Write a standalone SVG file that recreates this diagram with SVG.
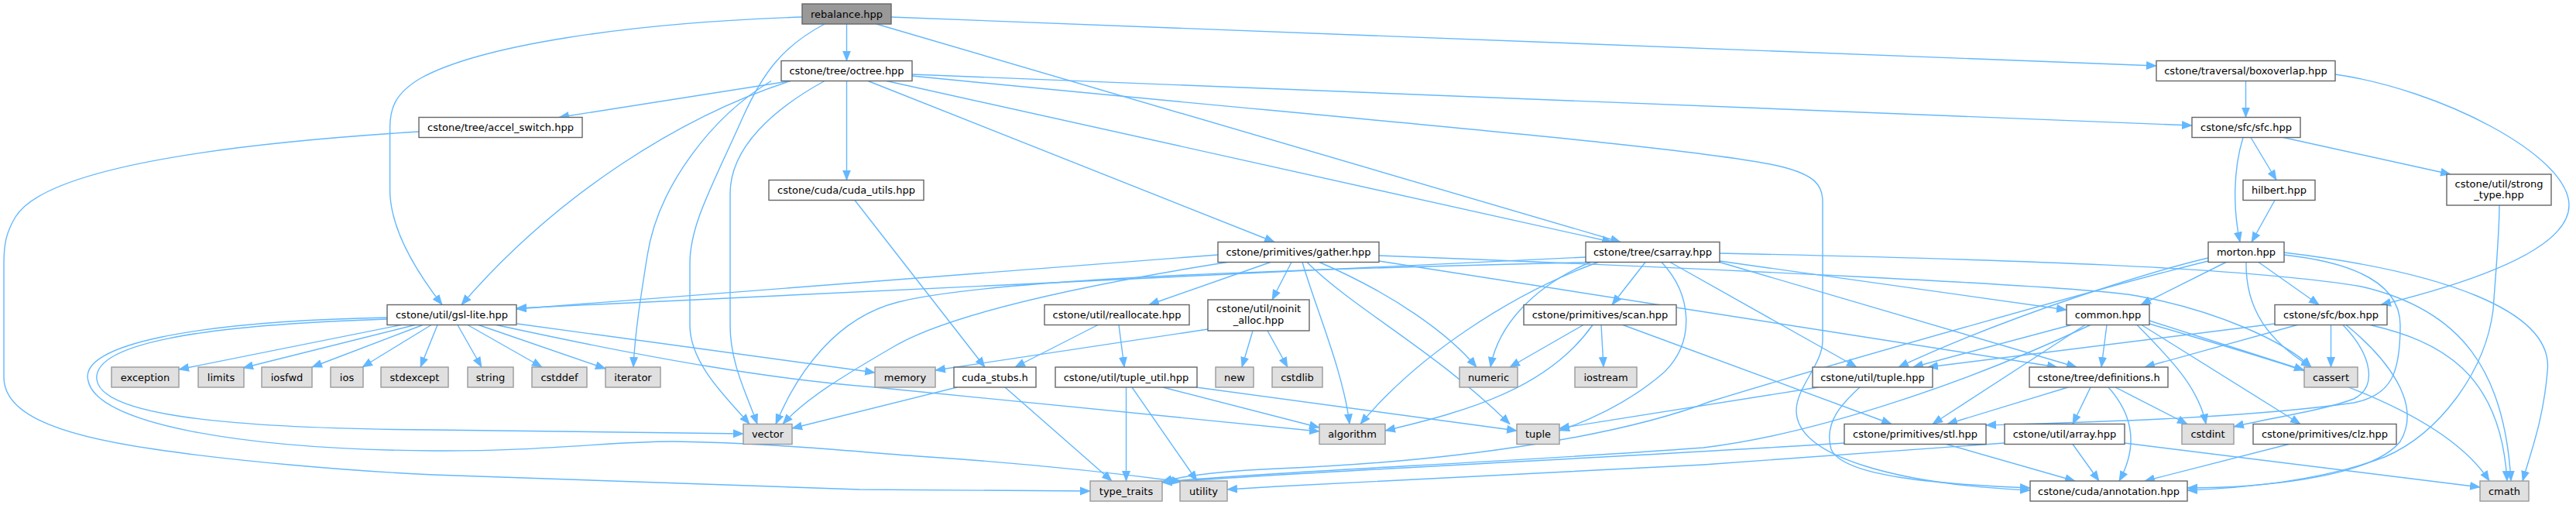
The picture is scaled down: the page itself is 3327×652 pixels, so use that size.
<svg xmlns="http://www.w3.org/2000/svg" width="3327" height="652" viewBox="0 0 3327 652">
<style>
.e{fill:none;stroke:#63b8ff;stroke-width:1.4;marker-end:url(#a)}
.d{fill:#ffffff;stroke:#666666;stroke-width:1.4}
.s{fill:#e0e0e0;stroke:#999999;stroke-width:1.4}
.r{fill:#999999;stroke:#666666;stroke-width:1.4}
text{font-family:"DejaVu Sans",sans-serif;font-size:13px;text-anchor:middle;fill:#000000}
</style>
<defs>
<marker id="a" markerUnits="userSpaceOnUse" markerWidth="14" markerHeight="12" viewBox="0 0 14 12" refX="13" refY="6" orient="auto"><path d="M0,0.5 L14,6 L0,11.5 z" fill="#63b8ff"/></marker>
</defs>
<rect x="0" y="0" width="3327" height="652" fill="#ffffff"/>
<g id="connectors">
<path class="e" d="M1093.5,31 L1093.5,78.5"/>
<path class="e" d="M1036,22 C800,30 620,60 545,100 C510,120 503.6,140 503.6,165 L503.6,245 C503.6,300 545,360 571,393.5"/>
<path class="e" d="M1065,31 C1010,60 985,95 960,150 C920,240 891,290 891,340 L891,420 C891,470 940,515 968,547.5"/>
<path class="e" d="M1132,31 L2093,312.5"/>
<path class="e" d="M1151,22 L2785,85"/>
<path class="e" d="M1021,104.5 L722,151.5"/>
<path class="e" d="M1021,104.5 C880,150 720,250 596,393.5"/>
<path class="e" d="M996,104.5 C920,150 850,240 836,330 C828,380 820,430 818,474"/>
<path class="e" d="M1065,104.5 C1000,140 943,190 943,250 L943,420 C943,470 965,510 978,547.5"/>
<path class="e" d="M1093.5,104.5 L1093.5,232.5"/>
<path class="e" d="M1121,104.5 L1646,312.5"/>
<path class="e" d="M1145,104.5 L2082,312.5"/>
<path class="e" d="M1178,96 L2831,162"/>
<path class="e" d="M1178,98 C1700,150 2200,190 2300,215 C2345,226 2354,240 2354,260 L2354,440 C2354,470 2320,500 2320,530 C2320,590 2450,625 2622,633"/>
<path class="e" d="M2900.5,104.5 L2900.5,151.5"/>
<path class="e" d="M3016,96 C3150,115 3318,200 3318,265 C3318,330 3150,375 3075,393.5"/>
<path class="e" d="M2897,177.5 C2884,220 2884,270 2893,312.5"/>
<path class="e" d="M2907,177.5 L2940,232.5"/>
<path class="e" d="M2949,177.5 L3165,225"/>
<path class="e" d="M2938,258.5 L2908,312.5"/>
<path class="e" d="M3228,265 C3228,300 3225,330 3220,400 C3210,480 3150,560 3080,590 C3000,620 2900,630 2825,633"/>
<path class="e" d="M1104,258.5 L1272,474"/>
<path class="e" d="M1641,338.5 L1484,393.5"/>
<path class="e" d="M1668,338.5 L1643,387"/>
<path class="e" d="M1573,329 L667,399"/>
<path class="e" d="M1585,338.5 C1450,360 1230,400 1150,450 C1090,485 1040,515 1011,547.5"/>
<path class="e" d="M1682,338.5 C1700,400 1735,480 1743,547.5"/>
<path class="e" d="M1688,338.5 C1750,400 1850,450 1950,547.5"/>
<path class="e" d="M1704,338.5 C1800,380 1870,430 1907,474"/>
<path class="e" d="M1781,330 C2200,346 2700,370 2760,382 C2860,400 2950,440 2985,474"/>
<path class="e" d="M1781,337 L2657,474"/>
<path class="e" d="M2048,332 L667,398"/>
<path class="e" d="M2054,338.5 C1800,345 1300,355 1160,390 C1080,410 1030,480 1002,547.5"/>
<path class="e" d="M2125,338.5 L2082,393.5"/>
<path class="e" d="M2054,338.5 C1980,370 1935,420 1925,474"/>
<path class="e" d="M2064,338.5 C1950,380 1830,460 1757,547.5"/>
<path class="e" d="M2146,338.5 C2185,380 2190,440 2150,480 C2110,515 2060,540 2014,556"/>
<path class="e" d="M2157,338.5 L2398,474"/>
<path class="e" d="M2221,337 L2669,400"/>
<path class="e" d="M2221,338.5 L2682,474"/>
<path class="e" d="M2221,327 C2600,335 2900,345 3050,370 C3180,400 3235,480 3243,621"/>
<path class="e" d="M2045,419.5 L1950,474"/>
<path class="e" d="M2057,419.5 C2000,500 1900,530 1789,556"/>
<path class="e" d="M2068,419.5 L2071,474"/>
<path class="e" d="M2096,419.5 L2443,547.5"/>
<path class="e" d="M518,419.5 L231,477"/>
<path class="e" d="M536,419.5 L314,475"/>
<path class="e" d="M546,419.5 L403,474"/>
<path class="e" d="M557,419.5 L468,474"/>
<path class="e" d="M565,419.5 L543,474"/>
<path class="e" d="M591,419.5 L622,474"/>
<path class="e" d="M604,419.5 L700,474"/>
<path class="e" d="M618,419.5 L782,476"/>
<path class="e" d="M668,418 L1130,481"/>
<path class="e" d="M641,419.5 C850,465 1000,490 1130,500 L1704,557"/>
<path class="e" d="M500,412 C250,420 120,445 125,490 C130,530 250,553 560,555 L960,560"/>
<path class="e" d="M500,410 C250,415 100,445 114,492 C125,545 300,580 560,582 C700,583 800,569 871,570 C1000,572 1100,583 1200,590 C1350,600 1450,612 1526,622"/>
<path class="e" d="M541,170 C300,185 60,215 20,280 C8,300 5,315 5,340 L5,487 C5,530 60,560 200,580 C300,595 450,608 560,613 L1110,632 L1408,634"/>
<path class="e" d="M1560,425 L1208,478"/>
<path class="e" d="M1618,427 L1604,474"/>
<path class="e" d="M1637,427 L1663,474"/>
<path class="e" d="M1418,419.5 L1311,474"/>
<path class="e" d="M1445,419.5 L1452,474"/>
<path class="e" d="M1236,500 L1023,553"/>
<path class="e" d="M1298,500 L1436,621"/>
<path class="e" d="M1454.5,500 L1454.5,621"/>
<path class="e" d="M1462,500 L1546,621"/>
<path class="e" d="M1502,500 L1704,552"/>
<path class="e" d="M1545,500 L1959,556"/>
<path class="e" d="M2348,500 L2014,553"/>
<path class="e" d="M2402,500 C2380,520 2355,545 2365,580 C2380,615 2500,625 2622,630"/>
<path class="e" d="M2675,419.5 L2471,474"/>
<path class="e" d="M2693,419.5 L2496,547.5"/>
<path class="e" d="M2721,419.5 L2714,474"/>
<path class="e" d="M2700,419.5 C2550,490 2350,560 2200,578 C1900,600 1700,605 1501,622"/>
<path class="e" d="M2776,414 L2976,478"/>
<path class="e" d="M2776,418 C2950,470 3150,520 3215,621"/>
<path class="e" d="M2760,419.5 C2800,460 2840,500 2849,547.5"/>
<path class="e" d="M2766,419.5 L2971,547.5"/>
<path class="e" d="M2671,500 L2515,547.5"/>
<path class="e" d="M2700,500 L2677,547.5"/>
<path class="e" d="M2723,500 C2750,530 2765,570 2737,621"/>
<path class="e" d="M2732,500 L2825,547.5"/>
<path class="e" d="M2967,419.5 L2770,474"/>
<path class="e" d="M2938,418 L2490,474"/>
<path class="e" d="M3010.5,419.5 L3010.5,474"/>
<path class="e" d="M3026,419.5 C3065,460 3070,500 3040,515 C3000,530 2930,540 2885,551"/>
<path class="e" d="M3030,419.5 C3080,460 3130,520 3100,570 C3060,620 2900,630 2825,630"/>
<path class="e" d="M3061,419.5 C3150,440 3230,480 3238,621"/>
<path class="e" d="M2875,338.5 L2765,393.5"/>
<path class="e" d="M2852,333 C2780,350 2600,405 2452,474"/>
<path class="e" d="M2917,338.5 L2995,393.5"/>
<path class="e" d="M2901,338.5 C2900,400 2930,440 2985,474"/>
<path class="e" d="M2950,329 C3050,340 3100,370 3100,420 C3100,480 3090,510 3040,520 C2900,540 2700,545 2565,549"/>
<path class="e" d="M2950,326 C3150,350 3300,400 3290,480 C3285,540 3270,580 3258,621"/>
<path class="e" d="M2852,337 C2750,362 2400,460 2210,518 C2100,560 1900,595 1650,605 C1580,608 1530,614 1501,622"/>
<path class="e" d="M2382,572 C2100,590 1700,608 1501,623"/>
<path class="e" d="M2589,572 L2200,600 L1650,628 L1585,632"/>
<path class="e" d="M2744,572 L3203,629"/>
<path class="e" d="M2514,573.5 L2680,621"/>
<path class="e" d="M2677,573.5 L2711,621"/>
<path class="e" d="M2956,573.5 L2770,621"/>
</g>
<g id="rebalance"><rect class="r" x="1036" y="5" width="115" height="26"/><text x="1093.5" y="22.6">rebalance.hpp</text></g>
<g id="octree"><rect class="d" x="1009" y="78.5" width="169" height="26"/><text x="1093.5" y="96.1">cstone/tree/octree.hpp</text></g>
<g id="boxoverlap"><rect class="d" x="2785" y="78.5" width="231" height="26"/><text x="2900.5" y="96.1">cstone/traversal/boxoverlap.hpp</text></g>
<g id="accel_switch"><rect class="d" x="541" y="151.5" width="211" height="26"/><text x="646.5" y="169.1">cstone/tree/accel_switch.hpp</text></g>
<g id="sfc"><rect class="d" x="2831" y="151.5" width="140" height="26"/><text x="2901" y="169.1">cstone/sfc/sfc.hpp</text></g>
<g id="cuda_utils"><rect class="d" x="993" y="232.5" width="200" height="26"/><text x="1093" y="250.1">cstone/cuda/cuda_utils.hpp</text></g>
<g id="hilbert"><rect class="d" x="2897" y="232.5" width="93" height="26"/><text x="2943.5" y="250.1">hilbert.hpp</text></g>
<g id="strong_type"><rect class="d" x="3160" y="225" width="135" height="40"/><text x="3227.5" y="241.5">cstone/util/strong</text><text x="3227.5" y="256">_type.hpp</text></g>
<g id="gather"><rect class="d" x="1573" y="312.5" width="208" height="26"/><text x="1677" y="330.1">cstone/primitives/gather.hpp</text></g>
<g id="csarray"><rect class="d" x="2048" y="312.5" width="173" height="26"/><text x="2134.5" y="330.1">cstone/tree/csarray.hpp</text></g>
<g id="morton"><rect class="d" x="2852" y="312.5" width="98" height="26"/><text x="2901" y="330.1">morton.hpp</text></g>
<g id="gsl_lite"><rect class="d" x="500" y="393.5" width="167" height="26"/><text x="583.5" y="411.1">cstone/util/gsl-lite.hpp</text></g>
<g id="reallocate"><rect class="d" x="1349" y="393.5" width="187" height="26"/><text x="1442.5" y="411.1">cstone/util/reallocate.hpp</text></g>
<g id="noinit_alloc"><rect class="d" x="1560" y="387" width="131" height="40"/><text x="1625.5" y="403">cstone/util/noinit</text><text x="1625.5" y="417.5">_alloc.hpp</text></g>
<g id="scan"><rect class="d" x="1968" y="393.5" width="197" height="26"/><text x="2066.5" y="411.1">cstone/primitives/scan.hpp</text></g>
<g id="common"><rect class="d" x="2669" y="393.5" width="107" height="26"/><text x="2722.5" y="411.1">common.hpp</text></g>
<g id="box"><rect class="d" x="2938" y="393.5" width="145" height="26"/><text x="3010.5" y="411.1">cstone/sfc/box.hpp</text></g>
<g id="exception"><rect class="s" x="144" y="474" width="87" height="26"/><text x="187.5" y="491.6">exception</text></g>
<g id="limits"><rect class="s" x="256" y="474" width="59" height="26"/><text x="285.5" y="491.6">limits</text></g>
<g id="iosfwd"><rect class="s" x="338" y="474" width="65" height="26"/><text x="370.5" y="491.6">iosfwd</text></g>
<g id="ios"><rect class="s" x="427" y="474" width="42" height="26"/><text x="448" y="491.6">ios</text></g>
<g id="stdexcept"><rect class="s" x="492" y="474" width="87" height="26"/><text x="535.5" y="491.6">stdexcept</text></g>
<g id="string"><rect class="s" x="604" y="474" width="59" height="26"/><text x="633.5" y="491.6">string</text></g>
<g id="cstddef"><rect class="s" x="687" y="474" width="71" height="26"/><text x="722.5" y="491.6">cstddef</text></g>
<g id="iterator"><rect class="s" x="782" y="474" width="71" height="26"/><text x="817.5" y="491.6">iterator</text></g>
<g id="memory"><rect class="s" x="1130" y="474" width="78" height="26"/><text x="1169" y="491.6">memory</text></g>
<g id="cuda_stubs"><rect class="d" x="1232" y="474" width="106" height="26"/><text x="1285" y="491.6">cuda_stubs.h</text></g>
<g id="tuple_util"><rect class="d" x="1363" y="474" width="183" height="26"/><text x="1454.5" y="491.6">cstone/util/tuple_util.hpp</text></g>
<g id="new"><rect class="s" x="1570" y="474" width="49" height="26"/><text x="1594.5" y="491.6">new</text></g>
<g id="cstdlib"><rect class="s" x="1643" y="474" width="65" height="26"/><text x="1675.5" y="491.6">cstdlib</text></g>
<g id="numeric"><rect class="s" x="1885" y="474" width="75" height="26"/><text x="1922.5" y="491.6">numeric</text></g>
<g id="iostream"><rect class="s" x="2034" y="474" width="80" height="26"/><text x="2074" y="491.6">iostream</text></g>
<g id="tuple_hpp"><rect class="d" x="2341" y="474" width="155" height="26"/><text x="2418.5" y="491.6">cstone/util/tuple.hpp</text></g>
<g id="definitions"><rect class="d" x="2621" y="474" width="179" height="26"/><text x="2710.5" y="491.6">cstone/tree/definitions.h</text></g>
<g id="cassert"><rect class="s" x="2976" y="474" width="69" height="26"/><text x="3010.5" y="491.6">cassert</text></g>
<g id="vector"><rect class="s" x="960" y="547.5" width="63" height="26"/><text x="991.5" y="565.1">vector</text></g>
<g id="algorithm"><rect class="s" x="1704" y="547.5" width="85" height="26"/><text x="1746.5" y="565.1">algorithm</text></g>
<g id="tuple"><rect class="s" x="1959" y="547.5" width="55" height="26"/><text x="1986.5" y="565.1">tuple</text></g>
<g id="stl"><rect class="d" x="2382" y="547.5" width="183" height="26"/><text x="2473.5" y="565.1">cstone/primitives/stl.hpp</text></g>
<g id="array"><rect class="d" x="2589" y="547.5" width="155" height="26"/><text x="2666.5" y="565.1">cstone/util/array.hpp</text></g>
<g id="cstdint"><rect class="s" x="2818" y="547.5" width="67" height="26"/><text x="2851.5" y="565.1">cstdint</text></g>
<g id="clz"><rect class="d" x="2910" y="547.5" width="185" height="26"/><text x="3002.5" y="565.1">cstone/primitives/clz.hpp</text></g>
<g id="type_traits"><rect class="s" x="1408" y="621" width="93" height="26"/><text x="1454.5" y="638.6">type_traits</text></g>
<g id="utility"><rect class="s" x="1524" y="621" width="61" height="26"/><text x="1554.5" y="638.6">utility</text></g>
<g id="annotation"><rect class="d" x="2622" y="621" width="203" height="26"/><text x="2723.5" y="638.6">cstone/cuda/annotation.hpp</text></g>
<g id="cmath"><rect class="s" x="3203" y="621" width="63" height="26"/><text x="3234.5" y="638.6">cmath</text></g>
</svg>
